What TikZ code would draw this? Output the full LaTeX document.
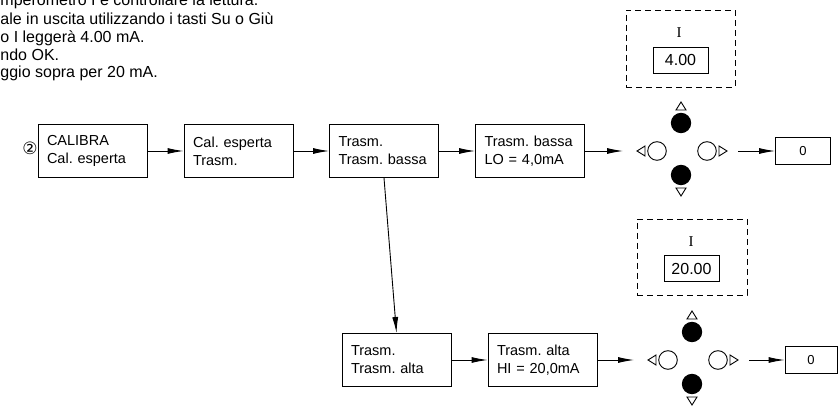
\documentclass[tikz,border=0pt]{standalone}
\usepackage{fontspec}
\setmainfont{Liberation Sans}
\newfontfamily\serifI{Liberation Serif}
\newfontfamily\symfont{DejaVu Sans}
\usetikzlibrary{arrows.meta}
\frenchspacing
\tikzset{
  every path/.style={line width=0.9pt},
  stepbox/.style={draw, minimum height=53pt, text width=91pt, inner xsep=9pt,
    inner ysep=0pt, align=left, font=\fontsize{14.5}{18}\selectfont},
  dispbox/.style={draw, minimum width=55pt, minimum height=26pt, inner sep=0pt,
    font=\fontsize{16}{18}\selectfont},
  outbox/.style={draw, minimum height=27pt, inner sep=0pt, font=\fontsize{13}{14}\selectfont},
  frame/.style={draw, dash pattern=on 6pt off 4pt, line width=0.9pt},
  arr/.style={-{Latex[length=16pt,width=6pt]}},
  note/.style={anchor=base west, inner sep=0pt, font=\fontsize{16}{18}\selectfont},
  keypad/.pic={
    \draw[fill=black] (0,-28) circle (9.7);
    \draw[fill=black] (0,24) circle (9.7);
    \draw (-24,0) circle (9.3);
    \draw (26,0) circle (9.3);
    \draw (-5,-41) -- (5,-41) -- (0,-49) -- cycle;
    \draw (-5,37) -- (5,37) -- (0,45) -- cycle;
    \draw (-36,-5) -- (-36,5) -- (-44,0) -- cycle;
    \draw (38,-5) -- (38,5) -- (46,0) -- cycle;
    \coordinate (-in) at (-58,0);
    \coordinate (-out) at (57,0);
  }
}
\begin{document}
\begin{tikzpicture}[x=1pt,y=-1pt]
\useasboundingbox (0,0) rectangle (838,411);

% instruction text (continues beyond the page edges)
\node[note] (t1) at (0,6) {mperometro I e controllare la lettura.};
\node[note] (t2) at (0,25) {ale in uscita utilizzando i tasti Su o Giù};
\node[note] (t3) at (0,43) {o I leggerà 4.00 mA.};
\node[note] (t4) at (0,60.5) {ndo OK.};
\node[note] (t5) at (0,78) {ggio sopra per 20 mA.};

% step marker
\node[font=\symfont\fontsize{17}{17}\selectfont, inner sep=0pt] (mark) at (30,148) {②};

% menu path, upper row
\node[stepbox] (b1) at (92.5,151) {CALIBRA\\Cal. esperta};
\node[stepbox] (b2) at (238.5,151) {Cal. esperta\\Trasm.};
\node[stepbox] (b3) at (384,151) {Trasm.\\Trasm. bassa};
\node[stepbox] (b4) at (530,151) {Trasm. bassa\\LO = 4,0mA};
\pic (k1) at (681,151) {keypad};
\node[outbox, minimum width=55pt] (o1) at (803,151) {0};

% menu path, lower row
\node[stepbox] (b5) at (396.5,360) {Trasm.\\Trasm. alta};
\node[stepbox] (b6) at (542.5,360) {Trasm. alta\\HI = 20,0mA};
\pic (k2) at (692,360) {keypad};
\node[outbox, minimum width=52pt] (o2) at (811,360) {0};

% meter readings
\node[frame, minimum width=109pt, minimum height=77pt] (d1) at (680.5,48.5) {};
\node[font=\serifI\fontsize{15}{15}\selectfont, inner sep=0pt] (i1) at (679,33) {I};
\node[dispbox] (v1) at (680.5,60) {4.00};
\node[frame, minimum width=110pt, minimum height=76pt] (d2) at (692,257) {};
\node[font=\serifI\fontsize{15}{15}\selectfont, inner sep=0pt] (i2) at (691,242) {I};
\node[dispbox] (v2) at (691.5,268.5) {20.00};

% connectors
\draw[arr] (b1.east) -- (b2.west);
\draw[arr] (b2.east) -- (b3.west);
\draw[arr] (b3.east) -- (b4.west);
\draw[arr] (b4.east) -- (k1-in);
\draw[arr] (k1-out) -- (o1.west);
\draw[arr] (b3.south) -- (b5.north);
\draw[arr] (b5.east) -- (b6.west);
\draw[arr] (b6.east) -- (k2-in);
\draw[arr] (k2-out) -- (o2.west);
\end{tikzpicture}
\end{document}
